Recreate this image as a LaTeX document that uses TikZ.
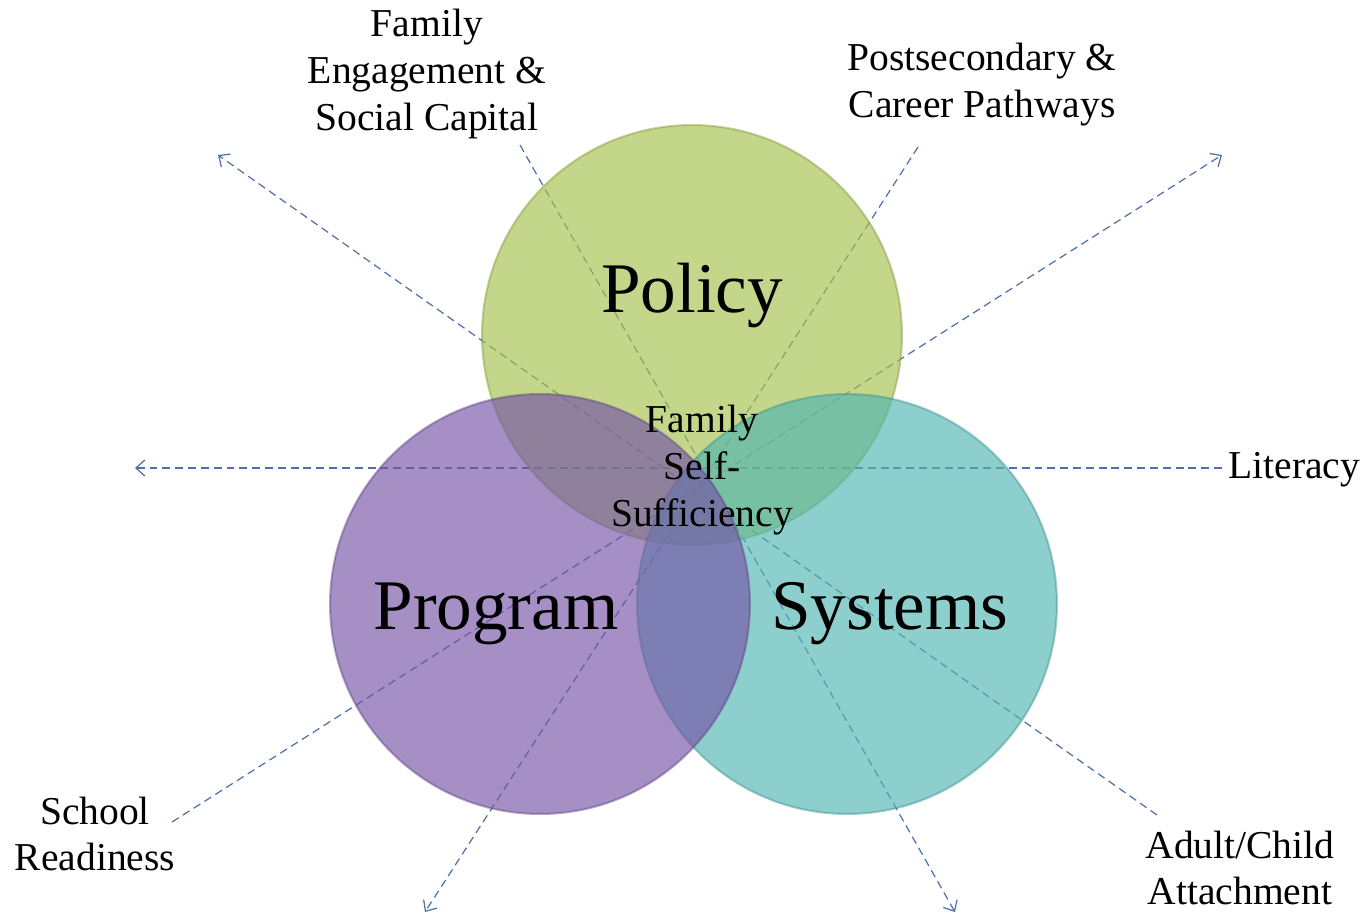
\documentclass[tikz,border=0pt]{standalone}
\usepackage{fontspec}
\setmainfont{Liberation Serif}
\usetikzlibrary{arrows.meta}

\definecolor{policyfill}{RGB}{163,192,75}
\definecolor{programfill}{RGB}{117,83,165}
\definecolor{systemsfill}{RGB}{80,181,177}
\definecolor{spokeblue}{RGB}{80,112,172}

\begin{document}
\begin{tikzpicture}[x=0.02cm,y=-0.02cm,
	ring/.style={circle, inner sep=0pt, minimum size=8.4cm, fill opacity=0.65, draw opacity=0.45, line width=1.2pt},
	spoke/.style={draw=spokeblue, line width=0.7pt, dash pattern=on 4.5pt off 2.8pt},
	tip/.style={-{Straight Barb[length=5pt,width=9pt]}},
	lbl/.style={font=\fontsize{22.5}{26.7}\selectfont, align=center, inner sep=0pt},
	big/.style={font=\fontsize{40.5}{48}\selectfont, inner sep=0pt}]

			\useasboundingbox (0,0) rectangle (1367,916);

			% end points of the dashed spokes
			\coordinate (fe end) at (520,145);
			\coordinate (ps end) at (918,147);
			\coordinate (lit end) at (1222,468);
			\coordinate (sr end) at (172,822);
			\coordinate (ac end) at (1157,815);
			\coordinate (se tip) at (955,912);
			\coordinate (sw tip) at (425,912);
			\coordinate (w tip) at (135,468);
			\coordinate (ne tip) at (1222,155);
			\coordinate (nw tip) at (218,155);

			\draw[spoke,tip] (fe end) -- (se tip);
			\draw[spoke,tip] (ps end) -- (sw tip);
			\draw[spoke,tip] (lit end) -- (w tip);
			\draw[spoke,tip] (sr end) -- (ne tip);
			\draw[spoke,tip] (ac end) -- (nw tip);

			% the three circles
			\node[ring, fill=policyfill, draw=policyfill!80!black] (policy) at (692,335){};
			\node[ring, fill=systemsfill, draw=systemsfill!80!black] (systems) at (847,604){};
			\node[ring, fill=programfill, draw=programfill!80!black] (program) at (540,604){};

			\node[big] (policy text) at (692,295){Policy};
			\node[big] (program text) at (496,614){Program};
			\node[big] (systems text) at (890,614){Systems};

			\node[lbl] (fss) at (702,470){Family\\Self-\\Sufficiency};
			\node[lbl] (fe) at (427,74){Family\\Engagement \&\\Social Capital};
			\node[lbl] (ps) at (982,85){Postsecondary \&\\Career Pathways};
			\node[lbl, anchor=west] (lit) at (1228,470){Literacy};
			\node[lbl] (sr) at (95,834){School\\Readiness};
			\node[lbl] (ac) at (1240,868){Adult/Child\\Attachment};
		\end{tikzpicture}
\end{document}
